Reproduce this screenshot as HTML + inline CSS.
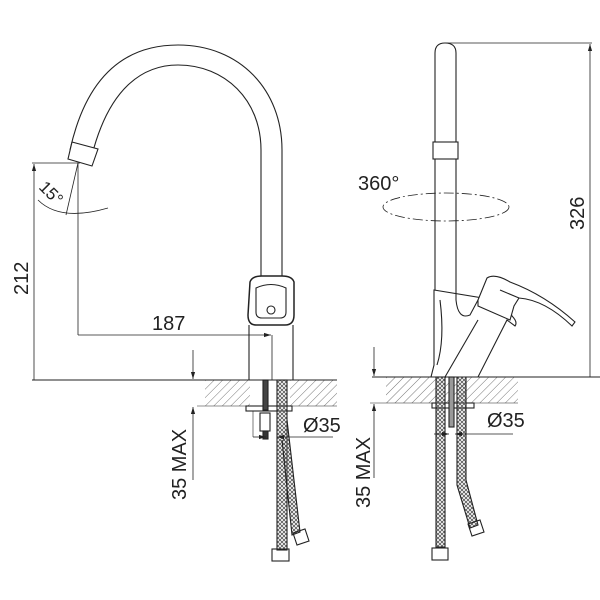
<!DOCTYPE html>
<html><head><meta charset="utf-8"><style>html,body{margin:0;padding:0;background:#fff}svg{display:block}text{font-family:"Liberation Sans",sans-serif;fill:#222}</style></head><body>
<svg width="600" height="600" viewBox="0 0 600 600" xmlns="http://www.w3.org/2000/svg">
<defs>
<pattern id="h" width="6" height="6" patternUnits="userSpaceOnUse" patternTransform="rotate(45)"><line x1="0" y1="0" x2="0" y2="6" stroke="#777" stroke-width="1"/></pattern>
<pattern id="br" width="4" height="4" patternUnits="userSpaceOnUse"><path d="M0 0L4 4M4 0L0 4" stroke="#555" stroke-width="0.8"/></pattern>
<marker id="a" viewBox="0 0 10 10" refX="10" refY="5" markerWidth="9" markerHeight="9" orient="auto-start-reverse"><path d="M0 2L10 5L0 8z" fill="#222"/></marker>
</defs>
<g fill="none" stroke="#222" stroke-width="1.1">
<!-- LEFT VIEW spout -->
<path d="M70 150 C90 60,140 45,178 45 C240 45,282 90,282 150 L282 280"/>
<path d="M92 155 C110 85,145 65,178 65 C225 65,261 100,261 150 L261 280"/>
<path d="M72 142 L98 149 L92 166 L68 159 Z" fill="#fff"/>
<!-- handle -->
<path d="M250 282 Q252 276 262 276 L282 276 Q292 276 294 282 L294 315 Q294 325 285 325 L256 325 Q248 325 248 315 Z" fill="#fff" stroke-width="1.5"/>
<path d="M256 288 Q271 281 286 288 L286 312 Q286 318 280 318 L262 318 Q256 318 256 312 Z"/>
<circle cx="271" cy="310" r="4"/>
<line x1="249" y1="325" x2="249" y2="380"/><line x1="293" y1="325" x2="293" y2="380"/>
<!-- counter left -->
<rect x="205" y="380" width="132" height="26" fill="url(#h)" stroke="none"/>
<rect x="250" y="380" width="40" height="26" fill="#fff" stroke="none"/>
<line x1="32" y1="380" x2="337" y2="380"/>
<line x1="197" y1="406" x2="337" y2="406" stroke-width="0.6"/>
<rect x="246" y="406" width="46" height="5" fill="#fff"/>
<rect x="263" y="380" width="5" height="30" fill="#444"/>
<rect x="260" y="413" width="10" height="18" fill="#fff"/>
<rect x="263" y="431" width="5" height="8" fill="#333"/>
<rect x="277" y="380" width="10" height="170" fill="url(#br)"/>
<path d="M287 420 L300 532 L292 535 L282 440" fill="url(#br)"/>
<rect x="272" y="549" width="17" height="12"/>
<path d="M293 533 L305 529 L309 541 L297 545 Z"/>
<!-- dims left -->
<line x1="32" y1="163" x2="80" y2="163" stroke-width="0.8"/>
<line x1="34" y1="380" x2="34" y2="164" marker-end="url(#a)" stroke-width="0.8"/>
<line x1="78" y1="163" x2="78" y2="335" stroke-width="0.8"/>
<line x1="78" y1="163" x2="66" y2="215" stroke-width="0.8"/>
<path d="M38 200 Q60 222 108 208" stroke-width="0.8"/>
<line x1="78" y1="335" x2="271" y2="335" marker-end="url(#a)" stroke-width="0.8"/>
<line x1="272" y1="335" x2="272" y2="380" stroke-width="0.8"/>
<line x1="193" y1="350" x2="193" y2="379" marker-end="url(#a)" stroke-width="0.8"/>
<line x1="193" y1="480" x2="193" y2="407" marker-end="url(#a)" stroke-width="0.8"/>
<line x1="253" y1="437" x2="266" y2="437" marker-end="url(#a)" stroke-width="0.8"/>
<line x1="333" y1="437" x2="277" y2="437" marker-end="url(#a)" stroke-width="0.8"/>
<line x1="253" y1="411" x2="253" y2="437" stroke-width="0.6"/>
<!-- RIGHT VIEW -->
<path d="M435 290 L435 53 Q435 43 445 43 Q456 43 456 53 L456 290"/>
<rect x="433" y="142" width="25" height="17" fill="#fff"/>
<ellipse cx="446" cy="207" rx="63" ry="14" stroke-dasharray="10 3 2 3" stroke-width="0.8"/>
<line x1="445" y1="43" x2="592" y2="43" stroke-width="0.8"/>
<line x1="590" y1="377" x2="590" y2="44" marker-end="url(#a)" stroke-width="0.8"/>
<path d="M434 290 L434 365 L431 377 L478 377 L507 320 L515 326 Q518 322 512 316 L507 302 Z" fill="#fff"/>
<path d="M456 290 L456 300 Q458 320 470 315 L478 300"/>
<path d="M437 365 Q445 340 440 300"/>
<path d="M445 377 L478 320"/>
<path d="M478 300 L487 278 Q495 273 510 282 Q545 295 575 322 L572 326 Q545 300 519 298 L514 306 L510 320 L478 306 Z" fill="#fff"/>
<path d="M500 290 L519 298"/>
<!-- counter right -->
<rect x="386" y="377" width="132" height="26" fill="url(#h)" stroke="none"/>
<line x1="372" y1="377" x2="600" y2="377"/>
<line x1="370" y1="403" x2="518" y2="403" stroke-width="0.6"/>
<rect x="432" y="403" width="42" height="5" fill="#fff"/>
<rect x="436" y="377" width="9" height="170" fill="url(#br)"/>
<rect x="449" y="377" width="5" height="50" fill="#999"/>
<path d="M457 377 L466 377 L466 480 L478 525 L470 528 L457 485 Z" fill="url(#br)"/>
<rect x="432" y="548" width="16" height="12"/>
<path d="M468 524 L480 520 L484 532 L472 536 Z"/>
<line x1="374" y1="347" x2="374" y2="376" marker-end="url(#a)" stroke-width="0.8"/>
<line x1="374" y1="478" x2="374" y2="404" marker-end="url(#a)" stroke-width="0.8"/>
<line x1="434" y1="434" x2="449" y2="434" marker-end="url(#a)" stroke-width="0.8"/>
<line x1="513" y1="434" x2="455" y2="434" marker-end="url(#a)" stroke-width="0.8"/>
</g>
<text x="0" y="0" font-size="20" transform="translate(28,295) rotate(-90)">212</text>
<text x="0" y="0" font-size="17" transform="translate(38,188) rotate(45)">15°</text>
<text x="152" y="330" font-size="20">187</text>
<text x="0" y="0" font-size="20" transform="translate(186,500) rotate(-90)">35 MAX</text>
<text x="303" y="432" font-size="20">Ø35</text>
<text x="358" y="190" font-size="20">360°</text>
<text x="0" y="0" font-size="20" transform="translate(584,230) rotate(-90)">326</text>
<text x="0" y="0" font-size="20" transform="translate(370,508) rotate(-90)">35 MAX</text>
<text x="487" y="427" font-size="20">Ø35</text>
</svg>
</body></html>
